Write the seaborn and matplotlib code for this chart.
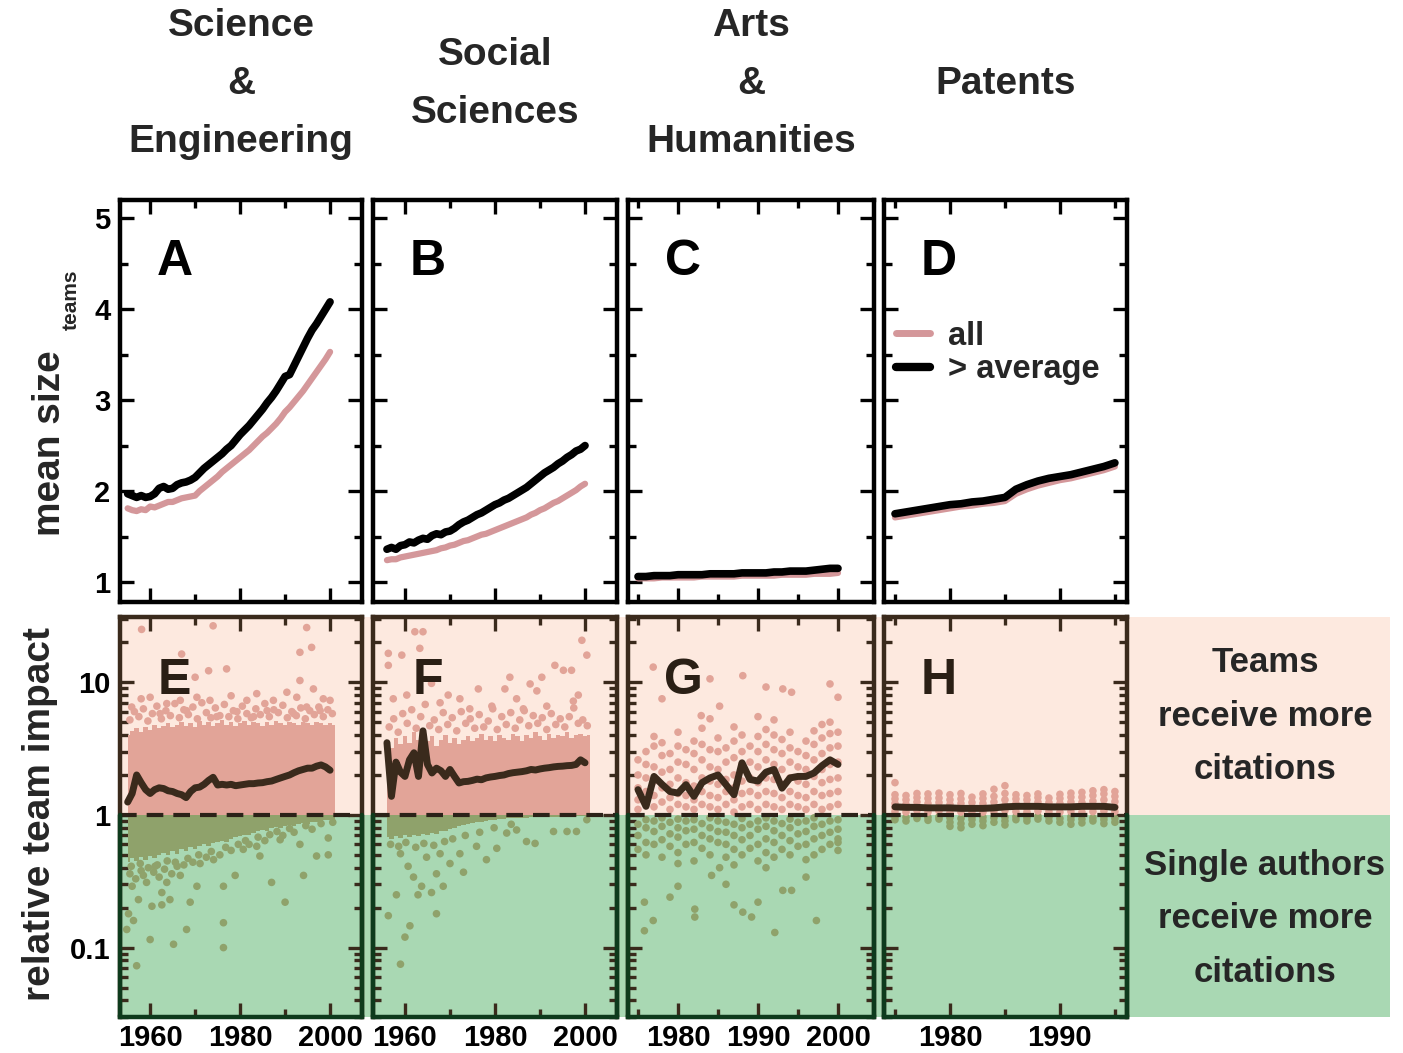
import numpy as np
import pandas as pd
import matplotlib
matplotlib.use("Agg")
import matplotlib.pyplot as plt
import seaborn as sns
from matplotlib.ticker import FixedLocator, LogLocator, NullFormatter, FuncFormatter
from matplotlib.lines import Line2D

# ---------------- data ----------------
titles = ["Science\n&\nEngineering", "Social\nSciences", "Arts\n&\nHumanities", "Patents"]
letters_top = ["A", "B", "C", "D"]
letters_bot = ["E", "F", "G", "H"]

# top row: mean team size
a_years = list(range(1955, 2001))
a_avg = [1.97, 1.95, 1.93, 1.95, 1.93, 1.94, 1.97, 2.03, 2.05, 2.02, 2.03, 2.07, 2.09, 2.10, 2.12, 2.15,
         2.20, 2.25, 2.29, 2.33, 2.37, 2.41, 2.46, 2.50, 2.56, 2.62, 2.67, 2.72, 2.78, 2.84, 2.90, 2.97,
         3.03, 3.10, 3.18, 3.26, 3.28, 3.38, 3.48, 3.58, 3.68, 3.77, 3.84, 3.92, 4.00, 4.08]
a_all = [1.81, 1.79, 1.78, 1.80, 1.79, 1.83, 1.82, 1.84, 1.86, 1.88, 1.88, 1.90, 1.92, 1.93, 1.94, 1.95,
         2.00, 2.04, 2.08, 2.12, 2.16, 2.21, 2.25, 2.29, 2.33, 2.37, 2.41, 2.45, 2.50, 2.55, 2.60, 2.64,
         2.69, 2.74, 2.80, 2.87, 2.92, 2.98, 3.04, 3.10, 3.17, 3.24, 3.31, 3.38, 3.45, 3.53]
b_years = list(range(1956, 2001))
b_avg = [1.36, 1.38, 1.36, 1.40, 1.41, 1.44, 1.43, 1.46, 1.48, 1.47, 1.51, 1.53, 1.52, 1.55, 1.56,
         1.59, 1.63, 1.66, 1.68, 1.71, 1.74, 1.76, 1.79, 1.82, 1.85, 1.87, 1.90, 1.92, 1.95, 1.98,
         2.01, 2.04, 2.08, 2.12, 2.16, 2.20, 2.23, 2.26, 2.30, 2.33, 2.37, 2.40, 2.44, 2.46, 2.50]
b_all = [1.24, 1.25, 1.25, 1.27, 1.28, 1.29, 1.30, 1.31, 1.32, 1.33, 1.34, 1.35, 1.37, 1.38, 1.40,
         1.41, 1.43, 1.45, 1.46, 1.48, 1.50, 1.52, 1.53, 1.55, 1.57, 1.59, 1.61, 1.63, 1.65, 1.67,
         1.69, 1.71, 1.74, 1.76, 1.79, 1.81, 1.84, 1.87, 1.89, 1.92, 1.95, 1.98, 2.01, 2.05, 2.08]
c_years = list(range(1975, 2001))
c_avg = [1.06, 1.06, 1.07, 1.07, 1.07, 1.08, 1.08, 1.08, 1.08, 1.09, 1.09, 1.09, 1.09, 1.10, 1.10,
         1.10, 1.10, 1.11, 1.11, 1.12, 1.12, 1.12, 1.13, 1.14, 1.15, 1.15]
c_all = [1.04, 1.04, 1.04, 1.05, 1.05, 1.05, 1.05, 1.05, 1.06, 1.06, 1.06, 1.06, 1.06, 1.07, 1.07,
         1.07, 1.07, 1.07, 1.08, 1.08, 1.08, 1.08, 1.09, 1.09, 1.09, 1.10]
d_years = list(range(1975, 1996))
d_avg = [1.75, 1.77, 1.79, 1.81, 1.83, 1.85, 1.86, 1.88, 1.89, 1.91, 1.93, 2.02, 2.07, 2.11, 2.14,
         2.16, 2.18, 2.21, 2.24, 2.27, 2.31]
d_all = [1.71, 1.73, 1.75, 1.77, 1.79, 1.81, 1.83, 1.84, 1.86, 1.87, 1.89, 1.97, 2.02, 2.06, 2.09,
         2.12, 2.14, 2.17, 2.20, 2.23, 2.27]

# bottom row: relative team impact (mean line)
e_years = list(range(1955, 2001))
e_line = [1.25, 1.45, 2.0, 1.75, 1.55, 1.45, 1.55, 1.6, 1.58, 1.52, 1.5, 1.45, 1.42, 1.35, 1.5, 1.6,
          1.62, 1.7, 1.82, 1.92, 1.68, 1.7, 1.68, 1.7, 1.66, 1.68, 1.7, 1.72, 1.72, 1.74, 1.75, 1.78,
          1.8, 1.85, 1.9, 1.95, 2.0, 2.08, 2.15, 2.2, 2.25, 2.25, 2.33, 2.38, 2.3, 2.17]
f_years = list(range(1956, 2001))
f_line = [3.5, 1.38, 2.5, 2.1, 1.95, 2.6, 2.94, 1.95, 4.3, 2.4, 2.07, 2.25, 2.15, 1.95, 2.2, 1.95,
          1.74, 1.78, 1.79, 1.82, 1.86, 1.84, 1.9, 1.93, 1.95, 1.98, 2.0, 2.05, 2.08, 2.1, 2.12, 2.15,
          2.2, 2.18, 2.22, 2.25, 2.27, 2.3, 2.32, 2.33, 2.35, 2.36, 2.4, 2.6, 2.47]
g_years = list(range(1975, 2001))
g_line = [1.55, 1.16, 1.95, 1.7, 1.5, 1.46, 1.69, 1.38, 1.75, 1.9, 2.0, 1.69, 1.42, 2.47, 1.85, 1.8,
          2.1, 2.2, 1.59, 1.9, 1.95, 1.95, 2.07, 2.35, 2.6, 2.4]
h_years = list(range(1975, 1996))
h_line = [1.15, 1.14, 1.14, 1.13, 1.13, 1.13, 1.12, 1.12, 1.12, 1.13, 1.15, 1.16, 1.16, 1.16, 1.15,
          1.15, 1.15, 1.16, 1.16, 1.16, 1.14]

# dense point clouds (envelopes per year)
e_band_years = list(range(1955, 2002))
e_band_top = [4.0, 4.3, 4.5, 4.2, 4.6, 4.4, 4.8, 4.5, 4.7, 4.9, 4.6, 4.8, 5.0, 4.7, 4.9, 4.6, 5.1, 4.8,
              5.0, 4.7, 4.9, 5.2, 4.8, 5.0, 4.7, 4.9, 5.1, 4.8, 5.0, 4.9, 4.7, 5.0, 4.8, 5.1, 4.9, 4.8,
              5.0, 4.9, 4.8, 5.0, 4.9, 4.8, 5.0, 4.9, 4.8, 4.9, 4.8]
e_band_low = [0.44, 0.47, 0.45, 0.48, 0.46, 0.49, 0.47, 0.50, 0.52, 0.50, 0.53, 0.51, 0.55, 0.53, 0.57,
              0.55, 0.58, 0.60, 0.58, 0.61, 0.62, 0.64, 0.62, 0.66, 0.68, 0.69, 0.71, 0.70, 0.73, 0.75,
              0.77, 0.76, 0.79, 0.81, 0.80, 0.82, 0.84, 0.83, 0.85, 0.87, 0.86, 0.88, 0.89, 0.90, 0.91,
              0.92, 0.93]
f_band_years = list(range(1956, 2002))
f_band_top = [3.6, 3.2, 3.8, 3.4, 3.9, 3.5, 4.2, 3.7, 4.4, 3.6, 3.9, 3.3, 3.7, 4.0, 3.5, 3.8, 3.4, 3.7,
              3.9, 3.6, 3.8, 4.1, 3.7, 3.9, 3.6, 4.0, 3.8, 3.7, 4.1, 3.9, 3.6, 4.0, 3.8, 4.2, 3.9, 3.7,
              4.1, 3.8, 4.0, 3.9, 4.2, 3.8, 4.0, 4.1, 3.9, 4.0]
f_band_low = [0.68, 0.66, 0.69, 0.67, 0.70, 0.68, 0.71, 0.69, 0.72, 0.70, 0.73, 0.72, 0.75, 0.76, 0.78,
              0.80, 0.82, 0.84, 0.86, 0.87, 0.88, 0.89, 0.90, 0.91, 0.92, 0.93, 0.93, 0.94, 0.94, 0.95,
              0.95, 0.95, 0.96, 0.96, 0.96, 0.97, 0.97, 0.97, 0.97, 0.98, 0.98, 0.98, 0.98, 0.98, 0.98,
              0.98]

# individual points (year, relative impact)
e_points = [(1958.1, 25), (1974.0, 26.6), (1994.8, 25.8), (1967.0, 16.3), (1970.0, 10.9), (1973.0, 12.2),
            (1977.0, 12.6), (1993.3, 16.8), (1995.9, 18.3), (1993.3, 10.3), (1960.0, 7.7), (1958.0, 7.5),
            (1963.7, 6.9), (1966.7, 7.3), (1970.4, 7.7), (1973.3, 7.3), (1978.0, 7.9), (1981.5, 7.3),
            (1983.7, 8.2), (1987.4, 7.3), (1990.4, 8.4), (1992.6, 7.7), (1996.3, 8.9), (2000.0, 7.3),
            (1962.2, 5.8), (1968.1, 6.1), (1974.8, 5.5), (1979.3, 6.0), (1983.0, 5.5), (1986.0, 6.1),
            (1991.9, 5.8), (1994.8, 6.5), (1997.8, 6.1), (1955.9, 6.5), (1998.5, 7.5),
            (1955.5, 5.2), (1956.5, 6.0), (1957.5, 5.5), (1958.5, 6.3), (1959.5, 5.1), (1960.5, 5.8),
            (1961.5, 6.6), (1962.5, 5.3), (1963.5, 6.1), (1964.5, 5.6), (1965.5, 6.9), (1966.5, 5.4),
            (1967.5, 6.2), (1968.5, 5.7), (1969.5, 6.5), (1970.5, 5.3), (1971.5, 7.0), (1972.5, 5.9),
            (1973.5, 5.4), (1974.5, 6.4), (1975.5, 5.6), (1976.5, 6.8), (1977.5, 5.5), (1978.5, 6.1),
            (1979.5, 5.3), (1980.5, 6.6), (1981.5, 5.8), (1982.5, 5.4), (1983.5, 6.3), (1984.5, 5.7),
            (1985.5, 6.9), (1986.5, 5.5), (1987.5, 6.2), (1988.5, 5.9), (1989.5, 6.7), (1990.5, 5.4),
            (1991.5, 6.0), (1992.5, 5.6), (1993.5, 6.4), (1994.5, 5.3), (1995.5, 6.1), (1996.5, 5.7),
            (1997.5, 6.5), (1998.5, 5.5), (1999.5, 6.2), (2000.5, 5.8),
            (1956.0, 0.29), (1955.2, 0.18), (1954.8, 0.137), (1956.3, 0.16), (1957.4, 0.23), (1960.0, 0.115),
            (1960.4, 0.205), (1962.6, 0.26), (1962.6, 0.21), (1964.4, 0.23), (1965.2, 0.106), (1966.7, 0.35),
            (1968.1, 0.137), (1968.9, 0.22), (1970.4, 0.29), (1976.3, 0.29), (1976.3, 0.154), (1976.3, 0.1),
            (1978.9, 0.35), (1984.4, 0.49), (1987.0, 0.31), (1990.0, 0.22), (1993.3, 0.6), (1994.1, 0.35),
            (1997.0, 0.49), (1999.6, 0.5), (1999.6, 0.67), (1958.5, 0.35), (1961.1, 0.41), (1963.7, 0.31),
            (1966.0, 0.41), (1971.1, 0.43), (1974.1, 0.46), (1980.7, 0.55), (1983.7, 0.58), (1988.9, 0.65),
            (1957.0, 0.073), (1955.5, 0.36), (1956.8, 0.33), (1958.0, 0.38), (1959.2, 0.31), (1960.8, 0.37),
            (1962.0, 0.34), (1963.2, 0.39), (1964.8, 0.36), (1967.5, 0.42), (1969.5, 0.44), (1972.5, 0.48),
            (1975.5, 0.5), (1978.0, 0.54), (1982.0, 0.6), (1985.5, 0.64), (1989.5, 0.7), (1992.0, 0.74),
            (1996.0, 0.78), (1955.8, 0.41), (1957.8, 0.43), (1959.6, 0.4), (1961.6, 0.42), (1963.8, 0.45),
            (1965.6, 0.44), (1968.4, 0.47), (1970.8, 0.5), (1973.6, 0.53), (1976.8, 0.57), (1979.6, 0.6),
            (1981.2, 0.64), (1984.0, 0.68), (1986.6, 0.71), (1988.2, 0.75), (1991.0, 0.79), (1994.6, 0.83),
            (1998.0, 0.86), (2000.6, 0.88)]
f_points = [(1962.2, 24), (1964.0, 24), (1963.3, 18), (1956.3, 16.5), (1959.3, 16), (1956.3, 13.4),
            (1965.9, 9.8), (1969.6, 8.0), (1972.2, 7.5), (1976.3, 8.9), (1982.2, 8.9), (1983.3, 10.9),
            (1987.8, 9.7), (1989.3, 8.6), (1990.4, 10.9), (1993.3, 13.4), (1995.2, 12.3), (1997.0, 12.3),
            (1999.3, 20.7), (2000.4, 16), (1998.5, 8), (1997.4, 7.2), (1984.8, 7.5), (1979.3, 6.6),
            (1974.4, 6.3), (1967.8, 7), (1957.4, 7.5), (1960.4, 8), (1991.5, 6.6), (1986.3, 6.3),
            (1956.5, 4.6), (1957.5, 5.3), (1958.5, 4.2), (1959.5, 5.8), (1960.5, 4.9), (1961.5, 6.2),
            (1962.5, 4.5), (1963.5, 5.5), (1964.5, 6.8), (1965.5, 4.7), (1966.5, 5.2), (1967.5, 4.4),
            (1968.5, 5.9), (1969.5, 4.8), (1970.5, 5.4), (1971.5, 4.3), (1972.5, 6.0), (1973.5, 4.9),
            (1974.5, 5.3), (1975.5, 4.5), (1976.5, 5.7), (1977.5, 4.6), (1978.5, 5.1), (1979.5, 6.3),
            (1980.5, 4.4), (1981.5, 5.5), (1982.5, 4.8), (1983.5, 5.9), (1984.5, 4.5), (1985.5, 5.2),
            (1986.5, 6.1), (1987.5, 4.7), (1988.5, 5.6), (1989.5, 4.9), (1990.5, 5.4), (1991.5, 4.4),
            (1992.5, 5.8), (1993.5, 4.8), (1994.5, 5.3), (1995.5, 4.6), (1996.5, 5.5), (1997.5, 6.4),
            (1998.5, 4.9), (1999.5, 5.2), (2000.5, 4.7),
            (1958.1, 0.25), (1956.3, 0.174), (1959.0, 0.075), (1960.0, 0.12), (1961.1, 0.146), (1962.9, 0.25),
            (1967.0, 0.18), (1967.0, 0.36), (1963.7, 0.29), (1965.9, 0.26), (1968.5, 0.29), (1961.9, 0.34),
            (1960.7, 0.41), (1970.0, 0.43), (1973.0, 0.37), (1978.1, 0.46), (1980.4, 0.56), (1987.0, 0.63),
            (1988.9, 0.61), (1993.0, 0.75), (1996.0, 0.75), (1998.1, 0.75), (2000.4, 0.92), (1959.0, 0.51),
            (1964.8, 0.48), (1967.8, 0.51), (1972.2, 0.51), (1975.9, 0.58), (1982.6, 0.73), (1984.8, 0.77),
            (1956.8, 0.6), (1958.6, 0.58), (1960.2, 0.62), (1962.4, 0.57), (1964.2, 0.61), (1966.4, 0.59),
            (1968.8, 0.63), (1970.6, 0.66), (1973.4, 0.7), (1976.6, 0.74), (1979.8, 0.8), (1983.6, 0.85)]
g_columns = {
    1975: [0.55, 0.7, 0.85, 1.1, 1.3, 1.6, 2.0, 2.6],
    1976: [0.5, 0.62, 0.8, 0.92, 1.2, 1.5, 1.9, 2.4, 3.0],
    1977: [0.6, 0.75, 0.9, 1.15, 1.4, 1.8, 2.3, 3.3, 3.9],
    1978: [0.48, 0.65, 0.82, 0.95, 1.25, 1.6, 2.1, 2.8, 3.5],
    1979: [0.58, 0.72, 0.88, 1.1, 1.35, 1.7, 2.2, 2.9],
    1980: [0.52, 0.68, 0.8, 0.93, 1.2, 1.45, 1.9, 2.5, 3.3, 4.2],
    1981: [0.6, 0.76, 0.9, 1.15, 1.4, 1.75, 2.4, 3.1],
    1982: [0.45, 0.62, 0.78, 0.92, 1.1, 1.3, 1.65, 2.2, 2.9, 3.6],
    1983: [0.56, 0.7, 0.86, 1.2, 1.5, 1.9, 2.6, 3.4, 4.5],
    1984: [0.5, 0.66, 0.8, 0.95, 1.15, 1.4, 1.8, 2.3, 3.1, 5.3],
    1985: [0.62, 0.75, 0.9, 1.1, 1.35, 1.7, 2.2, 3.0, 3.8],
    1986: [0.48, 0.6, 0.74, 0.88, 1.2, 1.5, 1.85, 2.5, 3.2],
    1987: [0.42, 0.55, 0.7, 0.85, 1.05, 1.3, 1.6, 2.0, 2.7, 3.6, 4.6],
    1988: [0.5, 0.65, 0.8, 0.94, 1.15, 1.45, 1.8, 2.4, 3.0, 4.0],
    1989: [0.56, 0.7, 0.85, 1.2, 1.5, 1.9, 2.5, 3.3],
    1990: [0.45, 0.6, 0.78, 0.9, 1.1, 1.4, 1.75, 2.3, 3.0, 3.9, 5.5],
    1991: [0.52, 0.66, 0.82, 0.95, 1.2, 1.5, 1.9, 2.6, 3.4, 4.4],
    1992: [0.48, 0.62, 0.76, 0.9, 1.15, 1.45, 1.85, 2.4, 3.1, 4.0, 5.2],
    1993: [0.55, 0.7, 0.86, 1.1, 1.35, 1.7, 2.2, 2.9, 3.7],
    1994: [0.5, 0.64, 0.8, 0.93, 1.2, 1.5, 1.9, 2.5, 3.2, 4.2],
    1995: [0.58, 0.72, 0.88, 1.15, 1.4, 1.8, 2.3, 3.0],
    1996: [0.46, 0.6, 0.75, 0.9, 1.1, 1.35, 1.7, 2.2, 2.8, 3.6],
    1997: [0.5, 0.66, 0.82, 0.95, 1.2, 1.5, 1.95, 2.6, 3.4, 4.3],
    1998: [0.55, 0.7, 0.85, 1.1, 1.4, 1.75, 2.2, 2.9, 3.8, 4.8],
    1999: [0.6, 0.74, 0.9, 1.15, 1.45, 1.85, 2.4, 3.2, 4.1, 5.0],
    2000: [0.62, 0.78, 0.92, 1.2, 1.5, 1.9, 2.5, 3.3, 4.2],
}
g_points = [(1976.9, 13), (1978.0, 7.5), (1984.0, 10.6), (1988.1, 11.2), (1985.2, 6.6), (1991.0, 9.2),
            (1993.1, 8.9), (1994.2, 8.4), (1999.0, 9.7), (2000.0, 7.7), (1982.9, 5.6),
            (1975.8, 0.134), (1976.9, 0.16), (1982.1, 0.17), (1982.1, 0.195), (1987.0, 0.21), (1988.1, 0.185),
            (1989.2, 0.17), (1992.1, 0.13), (1997.3, 0.16), (1990.0, 0.22), (1975.8, 0.22), (1979.0, 0.24),
            (1980.0, 0.29), (1980.0, 0.43), (1984.2, 0.35), (1986.0, 0.3), (1985.2, 0.4), (1991.0, 0.4),
            (1993.1, 0.27), (1994.2, 0.27), (1996.0, 0.34), (2000.0, 0.66), (2000.0, 0.54)]
h_columns = {
    1975: [0.92, 0.97, 1.06, 1.14, 1.22, 1.32, 1.42, 1.75],
    1976: [0.9, 0.96, 1.05, 1.12, 1.2, 1.3, 1.4],
    1977: [0.94, 0.98, 1.08, 1.16, 1.25, 1.35, 1.45],
    1978: [0.91, 0.96, 1.05, 1.13, 1.22, 1.33, 1.44],
    1979: [0.93, 0.97, 1.07, 1.15, 1.24, 1.34, 1.46],
    1980: [0.82, 0.88, 0.95, 1.04, 1.12, 1.2, 1.3, 1.42],
    1981: [0.8, 0.86, 0.94, 1.05, 1.13, 1.22, 1.32, 1.45],
    1982: [0.85, 0.92, 0.97, 1.06, 1.15, 1.24, 1.36],
    1983: [0.83, 0.9, 0.96, 1.05, 1.12, 1.22, 1.33, 1.44],
    1984: [0.88, 0.95, 1.06, 1.15, 1.25, 1.38, 1.56],
    1985: [0.84, 0.9, 0.96, 1.08, 1.18, 1.3, 1.45, 1.66],
    1986: [0.92, 0.97, 1.06, 1.14, 1.22, 1.32, 1.42],
    1987: [0.9, 0.95, 1.05, 1.12, 1.2, 1.3, 1.4],
    1988: [0.93, 0.98, 1.07, 1.16, 1.25, 1.35, 1.44],
    1989: [0.9, 0.96, 1.06, 1.14, 1.24, 1.34],
    1990: [0.88, 0.94, 1.05, 1.13, 1.22, 1.33, 1.43],
    1991: [0.85, 0.92, 0.97, 1.06, 1.15, 1.25, 1.36, 1.46],
    1992: [0.87, 0.93, 1.05, 1.14, 1.24, 1.36, 1.48],
    1993: [0.9, 0.95, 1.06, 1.16, 1.27, 1.4, 1.52],
    1994: [0.86, 0.92, 0.97, 1.07, 1.18, 1.3, 1.44, 1.55],
    1995: [0.88, 0.94, 1.06, 1.15, 1.26, 1.38, 1.5],
}

# ---------------- style ----------------
sns.set_theme(style="ticks")
plt.rcParams["font.family"] = ["Liberation Sans", "DejaVu Sans"]
plt.rcParams["font.weight"] = "bold"

PINK_LINE = "#d4979a"
BLACK = "#000000"
BROWN = "#3a2a1c"
DARK_GREEN = "#0e3a1c"
PT_PINK = "#e2a498"
PT_OLIVE = "#8fa26b"
BG_PINK = "#fde9df"
BG_GREEN = "#a9d8b3"

W, H = 1403, 1053
fig = plt.figure(figsize=(W / 100, H / 100), dpi=100)
fig.patch.set_facecolor("white")


def add_ax(x0, y0, x1, y1):
    return fig.add_axes([x0 / W, 1 - y1 / H, (x1 - x0) / W, (y1 - y0) / H])


cols = [(120, 362), (373, 617), (628, 874), (884, 1127)]
TOP_Y = (200, 602)
BOT_Y = (617, 1017)
xlims = [(1953.3, 2007.1), (1952.9, 2007.1), (1973.75, 2004.5), (1974.0, 1996.1)]
xmaj = [[1960, 1980, 2000], [1960, 1980, 2000], [1980, 1990, 2000], [1980, 1990]]
xmin = [[1970, 1990], [1970, 1990], [1975, 1985, 1995], [1975, 1985, 1995]]
YL_TOP = (0.78, 5.2)
YL_BOT = (0.03, 31)


def style_axes(ax, color):
    for s in ax.spines.values():
        s.set_visible(True)
        s.set_linewidth(3.2)
        s.set_color(color)
    ax.tick_params(which="both", direction="in", top=True, right=True, bottom=True, left=True,
                   color=color, width=2.4)
    ax.tick_params(which="major", length=10)
    ax.tick_params(which="minor", length=5.5)
    ax.tick_params(axis="both", labelsize=21, pad=7, labelcolor="black")


# ---- top row ----
top_data = [(a_years, a_all, a_avg), (b_years, b_all, b_avg), (c_years, c_all, c_avg), (d_years, d_all, d_avg)]
for i, (x0, x1) in enumerate(cols):
    ax = add_ax(x0, TOP_Y[0], x1, TOP_Y[1])
    yrs, v_all, v_avg = top_data[i]
    sns.lineplot(x=yrs, y=v_all, ax=ax, color=PINK_LINE, lw=4.5, estimator=None, sort=False)
    sns.lineplot(x=yrs, y=v_avg, ax=ax, color=BLACK, lw=5.5, estimator=None, sort=False)
    ax.set_xlim(*xlims[i])
    ax.set_ylim(*YL_TOP)
    ax.xaxis.set_major_locator(FixedLocator(xmaj[i]))
    ax.xaxis.set_minor_locator(FixedLocator(xmin[i]))
    ax.yaxis.set_major_locator(FixedLocator([1, 2, 3, 4, 5]))
    ax.yaxis.set_minor_locator(FixedLocator([1.5, 2.5, 3.5, 4.5]))
    style_axes(ax, BLACK)
    ax.set_xticklabels([])
    if i > 0:
        ax.set_yticklabels([])
    ax.set_xlabel("")
    ax.set_ylabel("")
    ax.text(0.225, 0.845, letters_top[i], transform=ax.transAxes, ha="center", va="center",
            fontsize=36, fontweight="bold", color="black")
    if i == 3:
        handles = [Line2D([], [], color=PINK_LINE, lw=5), Line2D([], [], color=BLACK, lw=6)]
        ax.legend(handles, ["all", "> average"], loc="upper left", bbox_to_anchor=(0.05, 0.70),
                  frameon=False, fontsize=23.5, handlelength=1.05, handletextpad=0.55,
                  labelspacing=0.08, borderpad=0, borderaxespad=0)

# ---- bottom row background shading ----
bg = add_ax(120, BOT_Y[0], 1390, BOT_Y[1])
bg.set_yscale("log")
bg.set_ylim(*YL_BOT)
bg.set_xlim(0, 1)
bg.axhspan(1, YL_BOT[1], color=BG_PINK, lw=0)
bg.axhspan(YL_BOT[0], 1, color=BG_GREEN, lw=0)
bg.axis("off")


def points_frame(pairs):
    df = pd.DataFrame(pairs, columns=["year", "impact"])
    df["side"] = np.where(df["impact"] >= 1, "up", "down")
    return df


def columns_frame(cols_dict, extra):
    pairs = [(yr, v) for yr, vals in cols_dict.items() for v in vals] + list(extra)
    return points_frame(pairs)


bottom = [
    (e_years, e_line, points_frame(e_points), (e_band_years, e_band_top, e_band_low)),
    (f_years, f_line, points_frame(f_points), (f_band_years, f_band_top, f_band_low)),
    (g_years, g_line, columns_frame(g_columns, g_points), None),
    (h_years, h_line, columns_frame(h_columns, []), None),
]

for i, (x0, x1) in enumerate(cols):
    ax = add_ax(x0, BOT_Y[0], x1, BOT_Y[1])
    ax.set_facecolor("none")
    ax.set_yscale("log")
    yrs, line, pts, band = bottom[i]
    if band is not None:
        by, btop, blow = band
        ax.fill_between(by, [1] * len(by), btop, step="mid", color=PT_PINK, lw=0, zorder=1)
        ax.fill_between(by, blow, [1] * len(by), step="mid", color=PT_OLIVE, lw=0, zorder=1)
    sns.scatterplot(data=pts, x="year", y="impact", hue="side", palette={"up": PT_PINK, "down": PT_OLIVE},
                    ax=ax, marker="o", s=30, linewidth=0, legend=False, zorder=2)
    ax.axhline(1, color="#2b2218", lw=3, ls=(0, (4, 2.4)), zorder=3)
    sns.lineplot(x=yrs, y=line, ax=ax, color=BROWN, lw=5, estimator=None, sort=False, zorder=4)
    ax.set_xlim(*xlims[i])
    ax.set_ylim(*YL_BOT)
    ax.xaxis.set_major_locator(FixedLocator(xmaj[i]))
    ax.xaxis.set_minor_locator(FixedLocator(xmin[i]))
    ax.yaxis.set_major_locator(FixedLocator([0.1, 1, 10]))
    ax.yaxis.set_minor_locator(LogLocator(base=10, subs=np.arange(2, 10), numticks=20))
    ax.yaxis.set_minor_formatter(NullFormatter())
    ax.yaxis.set_major_formatter(FuncFormatter(lambda v, p: {0.1: "0.1", 1: "1", 10: "10"}.get(round(v, 3), "")))
    style_axes(ax, BROWN)
    ax.tick_params(axis="x", pad=5)
    if i > 0:
        ax.set_yticklabels([])
    ax.set_xlabel("")
    ax.set_ylabel("")
    # lower part of frame in dark green
    ytr = ax.get_yaxis_transform()
    for xx in (0, 1):
        ax.plot([xx, xx], [YL_BOT[0], 1], transform=ytr, color=DARK_GREEN, lw=3.2, clip_on=False, zorder=5)
    ax.spines["bottom"].set_color(DARK_GREEN)
    ax.text(0.225, 0.84, letters_bot[i], transform=ax.transAxes, ha="center", va="center",
            fontsize=36, fontweight="bold", color="#2a1f15", zorder=6)

# ---- column titles ----
for i, (x0, x1) in enumerate(cols):
    fig.text((x0 + x1) / 2 / W, 1 - 84 / H, titles[i], ha="center", va="center", fontsize=28,
             fontweight="bold", linespacing=1.78)

# ---- axis labels ----
fig.text(50 / W, 1 - 443 / H, "mean size", rotation=90, ha="center", va="center", fontsize=28, fontweight="bold")
fig.text(71 / W, 1 - 300 / H, "teams", rotation=90, ha="center", va="center", fontsize=15, fontweight="bold")
fig.text(40 / W, 1 - 814 / H, "relative team impact", rotation=90, ha="center", va="center", fontsize=28,
         fontweight="bold")

# ---- right side annotations ----
fig.text(1265 / W, 1 - 716 / H, "Teams\nreceive more\ncitations", ha="center", va="center", fontsize=25,
         fontweight="bold", linespacing=1.78)
fig.text(1265 / W, 1 - 919 / H, "Single authors\nreceive more\ncitations", ha="center", va="center",
         fontsize=25, fontweight="bold", linespacing=1.78)

fig.savefig("out.png", dpi=100)
